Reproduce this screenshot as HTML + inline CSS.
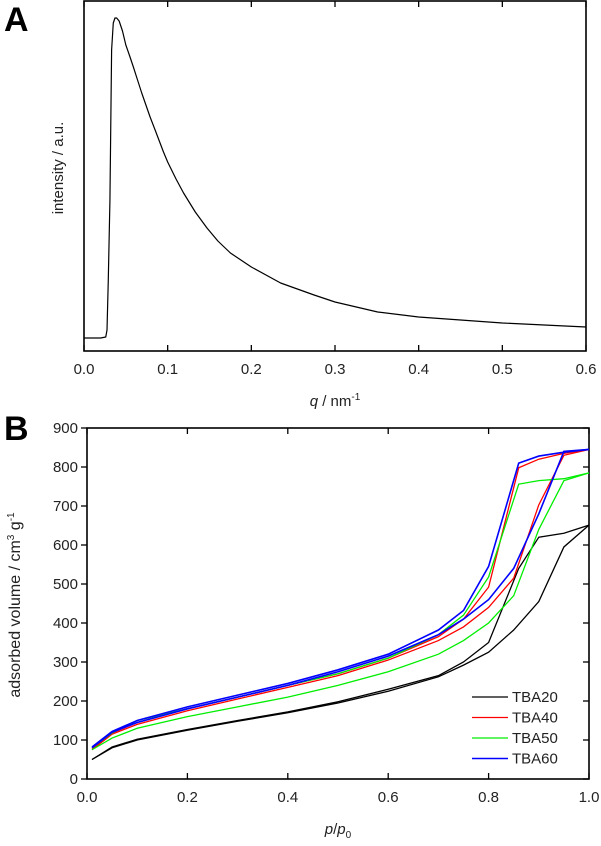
<!DOCTYPE html>
<html><head><meta charset="utf-8"><style>
body{margin:0;background:#fff;width:601px;height:841px;overflow:hidden}
svg{font-family:"Liberation Sans",Arial,sans-serif}
</style></head><body>
<svg id="fig" width="601" height="841" viewBox="0 0 601 841">
<text x="4" y="31" font-size="34" font-weight="bold">A</text>
<text x="4" y="440" font-size="34" font-weight="bold">B</text>
<g id="ga"></g>
<g id="gb"></g>
</svg>
<script>
// Panel A data
const qVals=[0,0.02,0.026,0.0275,0.029,0.031,0.033,0.035,0.037,0.039,0.042,0.046,0.05,0.055,0.059,0.064,0.069,0.074,0.079,0.085,0.09,0.095,0.1,0.11,0.119,0.133,0.147,0.16,0.175,0.2,0.235,0.275,0.3,0.351,0.4,0.45,0.5,0.55,0.6];
const intensity=[13,13,14,21,70,151,301,328,333,333,330,320,306,294,284,271,258,246,234,221,210,199,189,172,158,139,123,110,98,84,68,56,49,39,34,31,28,26,24];
const aTicks=[0.0,0.1,0.2,0.3,0.4,0.5,0.6];
// Panel B data
const bXTicks=[0.0,0.2,0.4,0.6,0.8,1.0];
const bYTicks=[0,100,200,300,400,500,600,700,800,900];
const seriesNames=["TBA20","TBA40","TBA50","TBA60"];
const seriesColors=["#000","#f00","#0e0","#00f"];
const adsP=[0.01,0.05,0.1,0.2,0.3,0.4,0.5,0.6,0.7,0.75,0.8,0.85,0.9,0.95,1.0];
const ads20=[50,80,100,125,148,170,195,225,262,292,325,382,455,595,651];
const ads40=[75,115,140,175,205,235,265,305,355,390,440,515,703,830,845];
const ads50=[75,105,130,160,185,210,240,275,320,355,400,470,640,765,785];
const ads60=[80,120,145,180,210,240,275,315,370,410,460,540,680,840,845];
const desP=[1.0,0.95,0.9,0.86,0.8,0.75,0.7,0.6,0.5,0.4,0.3,0.2,0.1,0.05,0.01];
const des20=[651,630,620,540,350,300,265,230,198,172,150,127,102,82,50];
const des40=[845,835,820,798,492,410,365,310,270,240,210,180,145,118,78];
const des50=[785,770,765,756,518,420,370,310,270,240,210,180,150,118,80];
const des60=[845,838,828,810,545,432,382,320,280,245,215,185,150,122,82];

const NS="http://www.w3.org/2000/svg";
function mk(p,t,a){const e=document.createElementNS(NS,t);for(const k in a)e.setAttribute(k,a[k]);p.appendChild(e);return e;}

// Panel A
const ga=document.getElementById('ga');
const aL=84,aR=586,aT=1,aB=351;
const ax=q=>aL+(q/0.6)*(aR-aL);
const ay=v=>aB-v;
let fa=mk(ga,'rect',{x:aL,y:aT,width:aR-aL,height:aB-aT,fill:'none',stroke:'#000','stroke-width':1.6});

aTicks.forEach(t=>{const x=ax(t);
 mk(ga,'line',{x1:x,x2:x,y1:aB,y2:aB-6,stroke:'#000','stroke-width':1.3});
 mk(ga,'line',{x1:x,x2:x,y1:aT,y2:aT+6,stroke:'#000','stroke-width':1.3});
 const tx=mk(ga,'text',{x:x,y:374,'font-size':15,'text-anchor':'middle',fill:'#222'});tx.textContent=t.toFixed(1);
 });
let pa=mk(ga,'polyline',{points:qVals.map((q,i)=>ax(q)+','+ay(intensity[i])).join(' '),fill:'none',stroke:'#000','stroke-width':1.2,'stroke-linejoin':'round'});

let xa=mk(ga,'text',{x:335,y:406,'font-size':15,'text-anchor':'middle',fill:'#222'});
xa.innerHTML='<tspan font-style="italic">q</tspan> / nm<tspan dy="-6" font-size="10">-1</tspan>';

let ya=mk(ga,'text',{x:0,y:0,'font-size':15,'text-anchor':'middle',fill:'#222',transform:'translate(63,168) rotate(-90)'});
ya.textContent='intensity / a.u.';


// Panel B
const gb=document.getElementById('gb');
const bL=87,bR=589,bT=428,bB=779;
const bx=p=>bL+p*(bR-bL);
const by=v=>bB-v/900*(bB-bT);
let fb=mk(gb,'rect',{x:bL,y:bT,width:bR-bL,height:bB-bT,fill:'none',stroke:'#000','stroke-width':1.6});

bXTicks.forEach(t=>{const x=bx(t);
 mk(gb,'line',{x1:x,x2:x,y1:bB,y2:bB-6,stroke:'#000','stroke-width':1.3});
 mk(gb,'line',{x1:x,x2:x,y1:bT,y2:bT+6,stroke:'#000','stroke-width':1.3});
 const tx=mk(gb,'text',{x:x,y:802,'font-size':15,'text-anchor':'middle',fill:'#222'});tx.textContent=t.toFixed(1);
 });
bYTicks.forEach(t=>{const y=by(t);
 mk(gb,'line',{x1:bL-6,x2:bL,y1:y,y2:y,stroke:'#000','stroke-width':1.3});
 mk(gb,'line',{x1:bR-6,x2:bR,y1:y,y2:y,stroke:'#000','stroke-width':1.3});
 const tx=mk(gb,'text',{x:bL-9,y:y+5,'font-size':15,'text-anchor':'end',fill:'#222'});tx.textContent=t;
 });
const adsAll=[ads20,ads40,ads50,ads60],desAll=[des20,des40,des50,des60];
seriesNames.forEach((n,s)=>{
 const w=s==3?1.6:1.3;
 const l1=mk(gb,'polyline',{points:adsP.map((p,i)=>bx(p)+','+by(adsAll[s][i])).join(' '),fill:'none',stroke:seriesColors[s],'stroke-width':w});
 
 const l2=mk(gb,'polyline',{points:desP.map((p,i)=>bx(p)+','+by(desAll[s][i])).join(' '),fill:'none',stroke:seriesColors[s],'stroke-width':w});
 
 const y=697+s*20.5;
 const ll=mk(gb,'line',{x1:472,x2:508,y1:y,y2:y,stroke:seriesColors[s],'stroke-width':w});
 
 const lt=mk(gb,'text',{x:512,y:y+5,'font-size':15,fill:'#222'});lt.textContent=n;
 
});
let xb=mk(gb,'text',{x:338,y:834,'font-size':15,'text-anchor':'middle',fill:'#222'});
xb.innerHTML='<tspan font-style="italic">p</tspan>/<tspan font-style="italic">p</tspan><tspan dy="4" font-size="10">0</tspan>';

let yb=mk(gb,'text',{x:0,y:0,'font-size':16,'text-anchor':'middle',fill:'#222',transform:'translate(20,605) rotate(-90)'});
yb.innerHTML='adsorbed volume / cm<tspan dy="-6" font-size="10">3</tspan><tspan dy="6"> g</tspan><tspan dy="-6" font-size="10">-1</tspan>';

</script>
</body></html>
